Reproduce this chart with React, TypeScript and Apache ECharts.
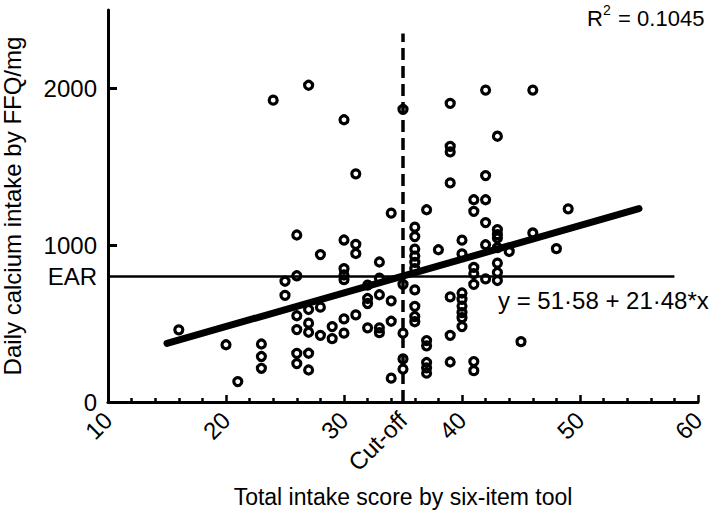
import React, { useEffect, useRef } from "react";
import * as echarts from "echarts";

// Scatter data: total intake score (x) and FFQ daily calcium intake (y)
const scoreX = [
  16, 20, 21,
  23, 23, 23,
  24,
  25, 25,
  26, 26, 26, 26, 26, 26,
  27, 27, 27, 27, 27, 27,
  28, 28, 28,
  29, 29,
  30, 30, 30, 30, 30, 30, 30,
  31, 31, 31, 31,
  32, 32, 32, 32,
  33, 33, 33, 33, 33,
  34, 34, 34, 34,
  35, 35, 35, 35, 35,
  36, 36, 36, 36, 36, 36, 36, 36, 36, 36,
  37, 37, 37, 37, 37, 37,
  38,
  39, 39, 39, 39, 39, 39, 39,
  40, 40, 40, 40, 40, 40, 40, 40,
  41, 41, 41, 41, 41, 41, 41,
  42, 42, 42, 42, 42, 42,
  43, 43, 43, 43, 43, 43, 43, 43,
  44, 45, 46, 46, 48, 49,
];
const intakeY = [
  460, 365, 130,
  370, 290, 215,
  1925,
  770, 680,
  1065, 805, 550, 462, 310, 245,
  2020, 590, 503, 445, 311, 204,
  940, 605, 425,
  481, 404,
  1800, 1033, 850, 810, 780, 530, 439,
  1455, 1005, 947, 556,
  745, 660, 628, 473,
  893, 790, 684, 473, 442,
  1205, 645, 515, 152,
  1866, 750, 439, 275, 210,
  1115, 1055, 975, 930, 890, 850, 715, 610, 545, 512,
  1226, 392, 358, 252, 218, 184,
  971,
  1904, 1630, 1595, 1397, 670, 425, 255,
  1032, 945, 695, 655, 612, 570, 538, 481,
  1290, 1216, 858, 818, 750, 258, 200,
  1989, 1444, 1290, 1144, 1003, 785,
  1695, 1099, 1067, 1046, 984, 886, 826, 775,
  960, 385, 1989, 1078, 978, 1232,
];

// Reference lines
const earValue = 800;
const earX = [10, 58];
const cutoffX = 35;
const cutoffTop = 2350;
const regressionX = [15, 55];
const regressionY = [374, 1233];

// Axis labels
const xLabelValues = [10, 20, 30, 35, 40, 50, 60];
const yLabelValues = [0, 800, 1000, 2000];
const yTickValues = [1000, 2000];

const FONT = "Liberation Sans";

export default function App() {
  const ref = useRef<HTMLDivElement>(null);

  useEffect(() => {
    if (!ref.current) return;
    const chart = echarts.init(ref.current, undefined, { renderer: "svg" });
    const points = scoreX.map((x, i) => [x, intakeY[i]]);

    chart.setOption({
      animation: false,
      backgroundColor: "#fff",
      textStyle: { fontFamily: FONT, color: "#000" },
      grid: { left: 108, right: 13, top: 10, bottom: 120, containLabel: false, outerBoundsMode: "none" },
      xAxis: {
        type: "value",
        min: 10,
        max: 60,
        interval: 10,
        name: "Total intake score by six-item tool",
        nameLocation: "middle",
        nameGap: 83,
        nameTextStyle: { fontSize: 23, color: "#000", fontFamily: FONT },
        axisLine: { show: true, onZero: false, lineStyle: { color: "#000", width: 3 } },
        axisTick: { show: true, inside: true, length: 7, lineStyle: { color: "#000", width: 2.5 } },
        minorTick: { show: true, splitNumber: 5, length: 4, lineStyle: { color: "#000", width: 2.5 } },
        splitLine: { show: false },
        minorSplitLine: { show: false },
        axisLabel: {
          customValues: xLabelValues,
          rotate: 45,
          margin: 14,
          fontSize: 24,
          color: "#000",
          fontFamily: FONT,
          formatter: (v: number) => (v === cutoffX ? "Cut-off" : String(v)),
        },
      },
      yAxis: {
        type: "value",
        min: 0,
        max: 2500,
        name: "Daily calcium intake by FFQ/mg",
        nameLocation: "middle",
        nameGap: 84,
        nameTextStyle: { fontSize: 24, color: "#000", fontFamily: FONT },
        axisLine: { show: true, lineStyle: { color: "#000", width: 3 } },
        axisTick: { show: true, inside: true, length: 9, customValues: yTickValues, lineStyle: { color: "#000", width: 3 } },
        splitLine: { show: false },
        axisLabel: {
          customValues: yLabelValues,
          margin: 11,
          fontSize: 24,
          color: "#000",
          fontFamily: FONT,
          formatter: (v: number) => (v === earValue ? "EAR" : String(v)),
        },
      },
      series: [
        {
          type: "scatter",
          data: points,
          symbol: "circle",
          symbolSize: 8,
          itemStyle: { color: "rgba(0,0,0,0)", borderColor: "#000", borderWidth: 3.2, opacity: 1 },
          z: 2,
        },
        {
          type: "line",
          data: earX.map((x) => [x, earValue]),
          symbol: "none",
          lineStyle: { color: "#000", width: 2.5 },
          z: 3,
        },
        {
          type: "line",
          data: [[cutoffX, 0], [cutoffX, cutoffTop]],
          symbol: "none",
          lineStyle: { color: "#000", width: 3.5, type: [12, 6] },
          z: 3,
        },
        {
          type: "line",
          data: regressionX.map((x, i) => [x, regressionY[i]]),
          symbol: "none",
          lineStyle: { color: "#000", width: 7, cap: "round" },
          z: 4,
        },
      ],
      graphic: [
        { type: "text", left: 587, top: 7, style: { text: "R", fontSize: 22, fontFamily: FONT, fill: "#000" } },
        { type: "text", left: 603, top: 3, style: { text: "2", fontSize: 14, fontFamily: FONT, fill: "#000" } },
        { type: "text", left: 612, top: 7, style: { text: " = 0.1045", fontSize: 22, fontFamily: FONT, fill: "#000" } },
        { type: "text", left: 498, top: 288, style: { text: "y = 51·58 + 21·48*x", fontSize: 24, fontFamily: FONT, fill: "#000" } },
      ],
    });
    return () => chart.dispose();
  }, []);

  return <div ref={ref} style={{ width: 711, height: 522, position: "absolute", left: 0, top: 0 }} />;
}
